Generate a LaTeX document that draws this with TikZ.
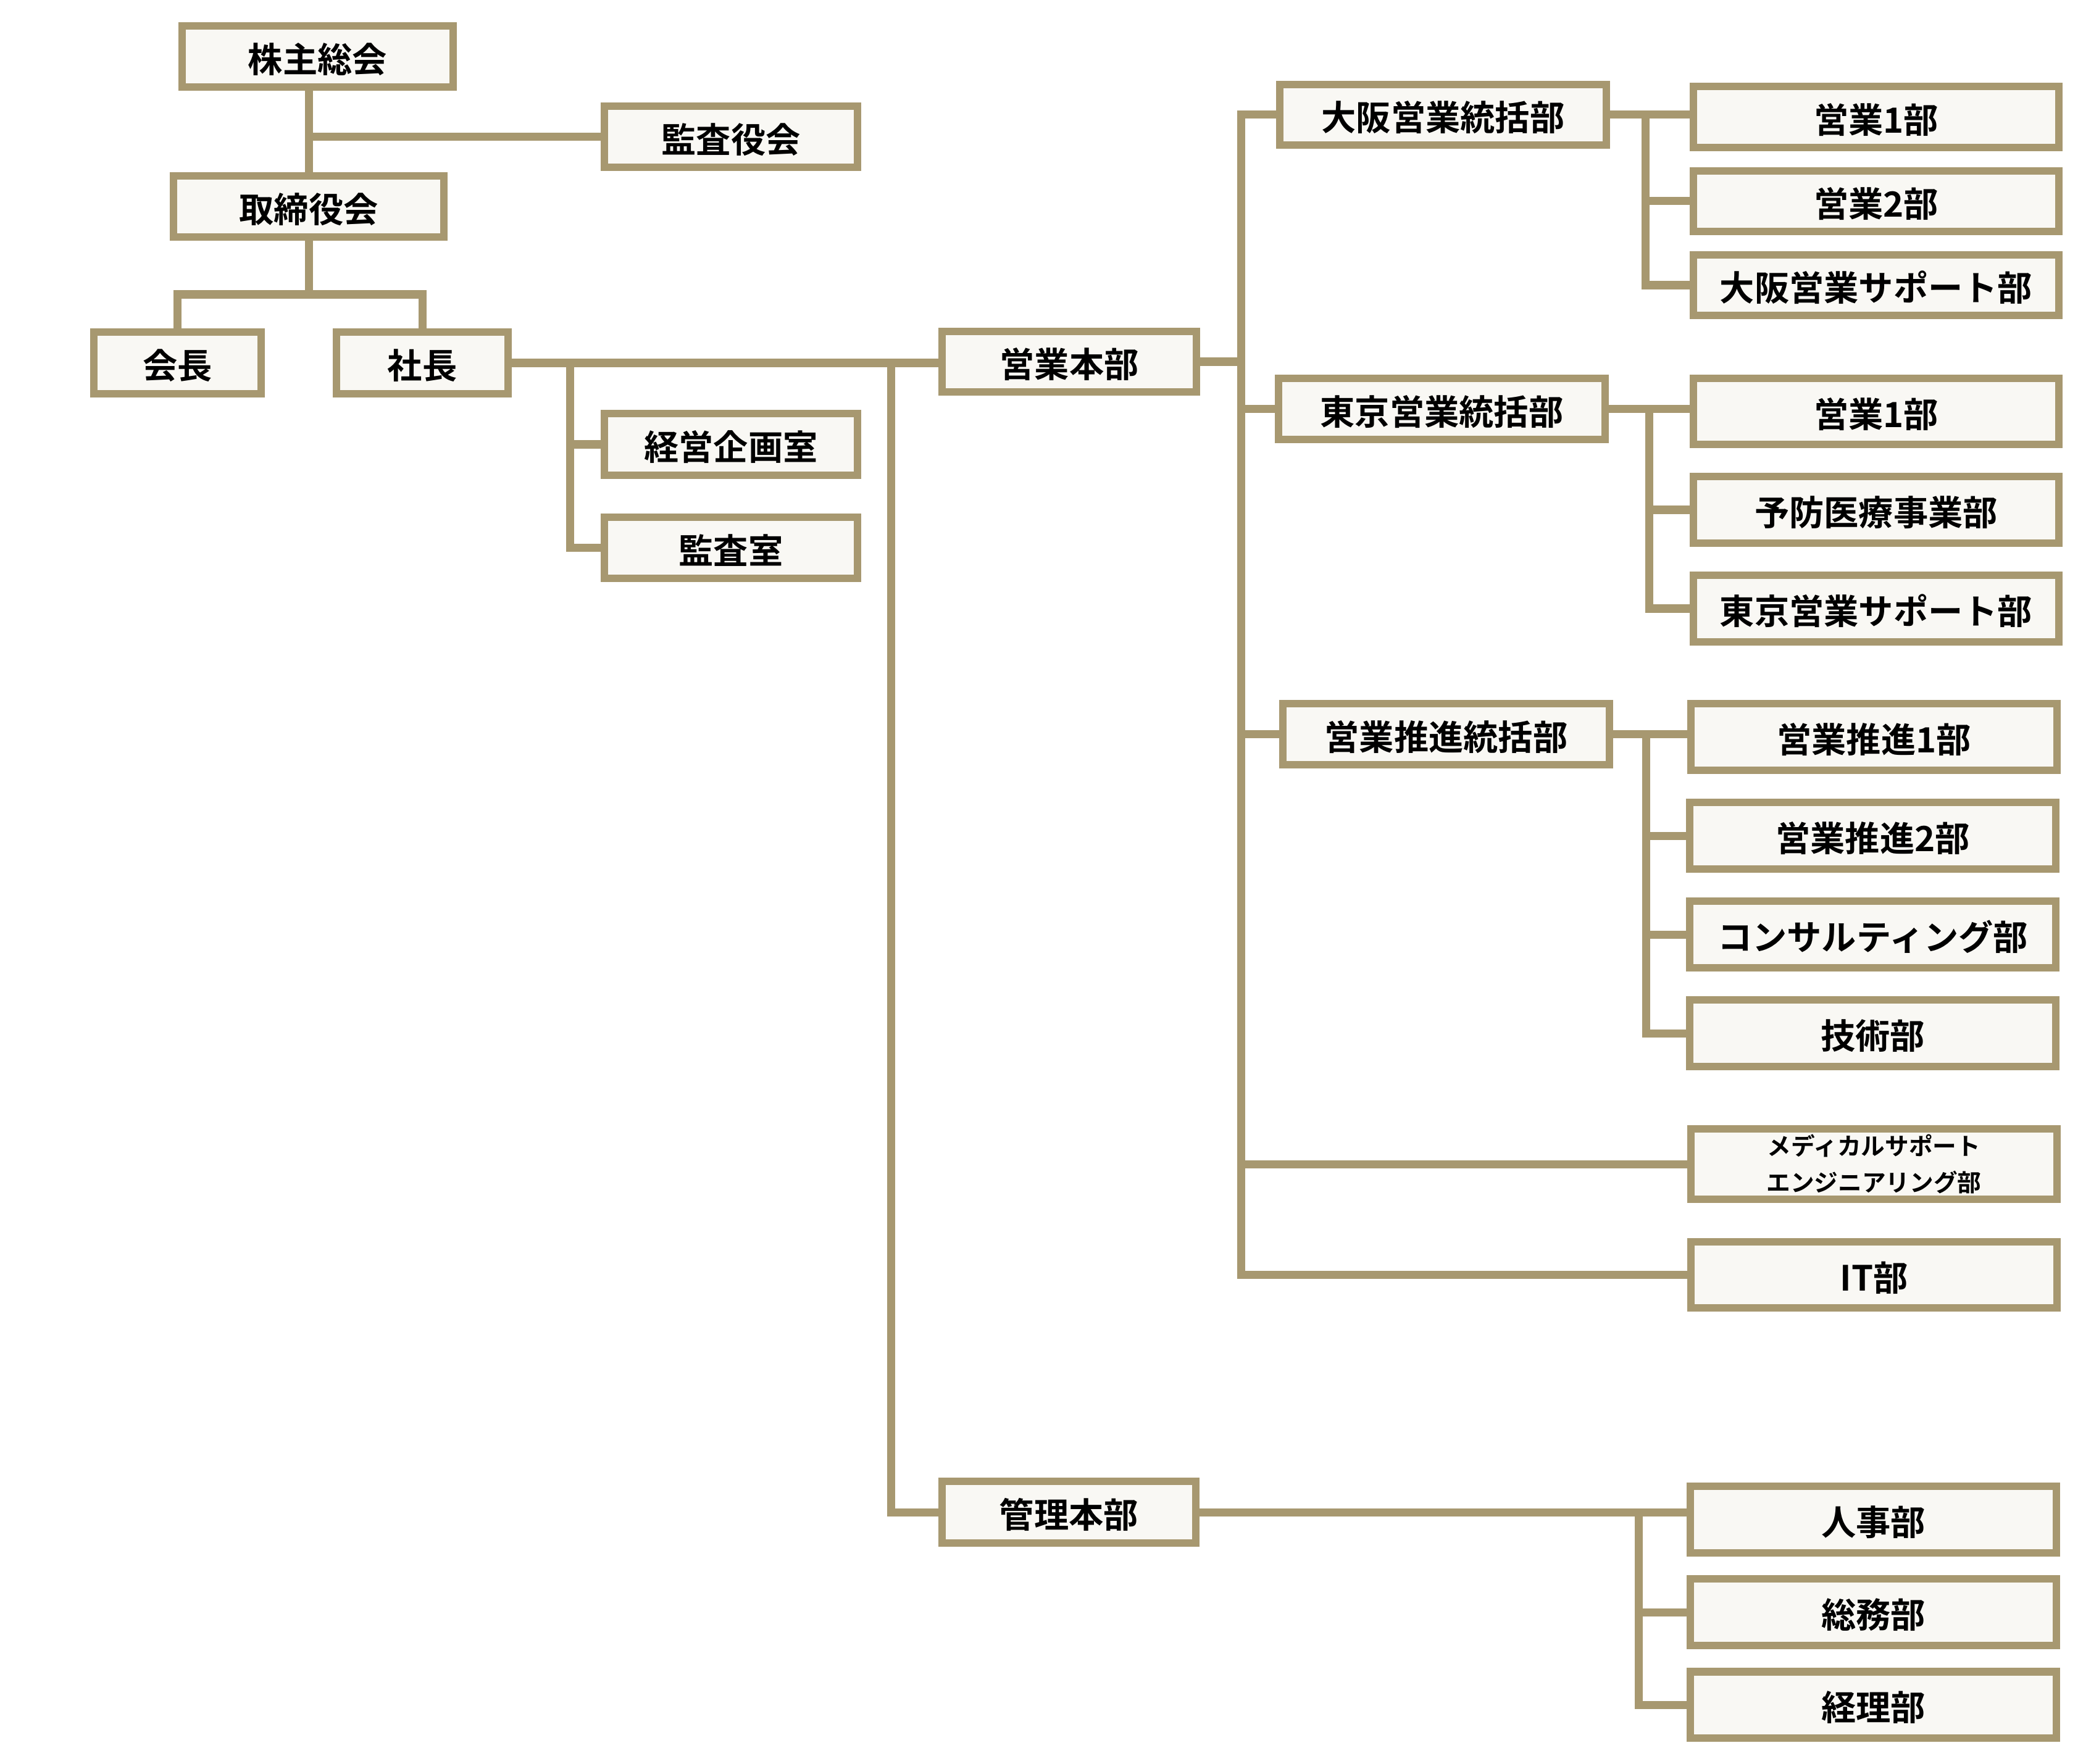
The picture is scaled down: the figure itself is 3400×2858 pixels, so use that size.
\documentclass[tikz,border=0pt]{standalone}
\usepackage{fontspec}
\setmainfont{Noto Sans CJK JP}[BoldFont={Noto Sans CJK JP Bold}]
\usepackage{xcolor}
\definecolor{linecolor}{RGB}{167,152,112}
\definecolor{boxcolor}{RGB}{249,248,244}
\tikzset{
  frame/.style={draw=linecolor, fill=boxcolor, line width=0.12cm, inner sep=0pt},
  box/.style={frame, font=\fontsize{16pt}{19pt}\selectfont\bfseries,
    text height=0.55cm, text depth=0.04cm},
  rbox/.style={box, minimum width=5.92cm, minimum height=1.07cm},
  conn/.style={draw=linecolor, line width=0.13cm}
}
\begin{document}
\begin{tikzpicture}[x=0.01cm, y=-0.01cm]
    \useasboundingbox (0,0) rectangle (3400,2858);

    % 上层机构
    \node[box, minimum width=4.39cm, minimum height=0.99cm] (kabunushi) at (514.5,91.5) {株主総会};
    \node[box, minimum width=4.10cm, minimum height=0.99cm] (kansayaku) at (1184,221.5) {監査役会};
    \node[box, minimum width=4.38cm, minimum height=0.99cm] (torishimari) at (500,334.5) {取締役会};
    \node[box, minimum width=2.71cm, minimum height=1.00cm] (kaicho) at (287.5,588) {会長};
    \node[box, minimum width=2.78cm, minimum height=1.00cm] (shacho) at (684,588) {社長};
    \node[box, minimum width=4.10cm, minimum height=1.00cm] (keiei) at (1184,720) {経営企画室};
    \node[box, minimum width=4.10cm, minimum height=0.99cm] (kansa) at (1184,887.5) {監査室};

    % 本部
    \node[box, minimum width=4.12cm, minimum height=0.98cm] (eigyo) at (1732,586) {営業本部};
    \node[box, minimum width=4.11cm, minimum height=1.00cm] (kanri) at (1731.5,2450) {管理本部};

    % 統括部
    \node[box, minimum width=5.29cm, minimum height=0.98cm] (osaka) at (2337.5,186) {大阪営業統括部};
    \node[box, minimum width=5.29cm, minimum height=0.99cm] (tokyo) at (2335.5,662.5) {東京営業統括部};
    \node[box, minimum width=5.29cm, minimum height=0.99cm] (suishin) at (2342.5,1189.5) {営業推進統括部};

    % 各部
    \node[rbox, minimum height=0.99cm] (osakaA) at (3039,189.5) {営業1部};
    \node[rbox, minimum height=0.98cm] (osakaB) at (3039,326) {営業2部};
    \node[rbox, minimum height=0.98cm] (osakaS) at (3039,462) {大阪営業サポート部};
    \node[rbox] (tokyoA) at (3039,666.5) {営業1部};
    \node[rbox] (yobo) at (3039,826) {予防医療事業部};
    \node[rbox] (tokyoS) at (3039,986) {東京営業サポート部};
    \node[rbox] (suishinA) at (3035.5,1194) {営業推進1部};
    \node[rbox] (suishinB) at (3033.5,1354) {営業推進2部};
    \node[rbox] (consul) at (3033.5,1514) {コンサルティング部};
    \node[rbox] (gijutsu) at (3033.5,1674) {技術部};
    \node[frame, minimum width=5.92cm, minimum height=1.14cm, align=center,
      font=\fontsize{11pt}{16.8pt}\selectfont\bfseries] (medical) at (3035.5,1886) {メディカルサポート\\エンジニアリング部};
    \node[rbox] (it) at (3035.5,2065.5) {IT部};
    \node[rbox] (jinji) at (3034.5,2462) {人事部};
    \node[rbox] (somu) at (3034.5,2612) {総務部};
    \node[rbox] (keiri) at (3034.5,2762) {経理部};

    % 连线的分支点
    \coordinate (yakuin) at (500,477);
    \coordinate (keieiBus) at (923,588);
    \coordinate (honbuBus) at (1443,588);
    \coordinate (eigyoBus) at (2010,586);
    \coordinate (osakaBus) at (2665,186);
    \coordinate (tokyoBus) at (2671,662.5);
    \coordinate (suishinBus) at (2666,1189.5);
    \coordinate (kanriBus) at (2654,2450);

    % 上层连线
    \draw[conn] (torishimari.north) -- (torishimari.north |- kabunushi.south);
    \draw[conn] (kansayaku.west) -- (kansayaku.west -| torishimari.north);
    \draw[conn] (torishimari.south) -- (yakuin);
    \draw[conn] (kaicho.north) |- (yakuin) -| (shacho.north);
    \draw[conn] (shacho.east) -- (shacho.east -| eigyo.west);
    \draw[conn] (keieiBus) |- (kansa.west);
    \draw[conn] (keieiBus |- keiei.west) -- (keiei.west);
    \draw[conn] (honbuBus) |- (kanri.west);

    % 営業本部の连线
    \draw[conn] (eigyo.east) -- (eigyoBus);
    \draw[conn] (osaka.west) -| (eigyoBus |- it.west) -- (it.west);
    \draw[conn] (eigyoBus |- tokyo.west) -- (tokyo.west);
    \draw[conn] (eigyoBus |- suishin.west) -- (suishin.west);
    \draw[conn] (eigyoBus |- medical.west) -- (medical.west);

    \draw[conn] (osaka.east) -- (osaka.east -| osakaA.west);
    \draw[conn] (osakaBus) |- (osakaS.west);
    \draw[conn] (osakaBus |- osakaB.west) -- (osakaB.west);

    \draw[conn] (tokyo.east) -- (tokyo.east -| tokyoA.west);
    \draw[conn] (tokyoBus) |- (tokyoS.west);
    \draw[conn] (tokyoBus |- yobo.west) -- (yobo.west);

    \draw[conn] (suishin.east) -- (suishin.east -| suishinA.west);
    \draw[conn] (suishinBus) |- (gijutsu.west);
    \draw[conn] (suishinBus |- suishinB.west) -- (suishinB.west);
    \draw[conn] (suishinBus |- consul.west) -- (consul.west);

    % 管理本部の连线
    \draw[conn] (kanri.east) -- (kanri.east -| jinji.west);
    \draw[conn] (kanriBus) |- (keiri.west);
    \draw[conn] (kanriBus |- somu.west) -- (somu.west);
\end{tikzpicture}
\end{document}
